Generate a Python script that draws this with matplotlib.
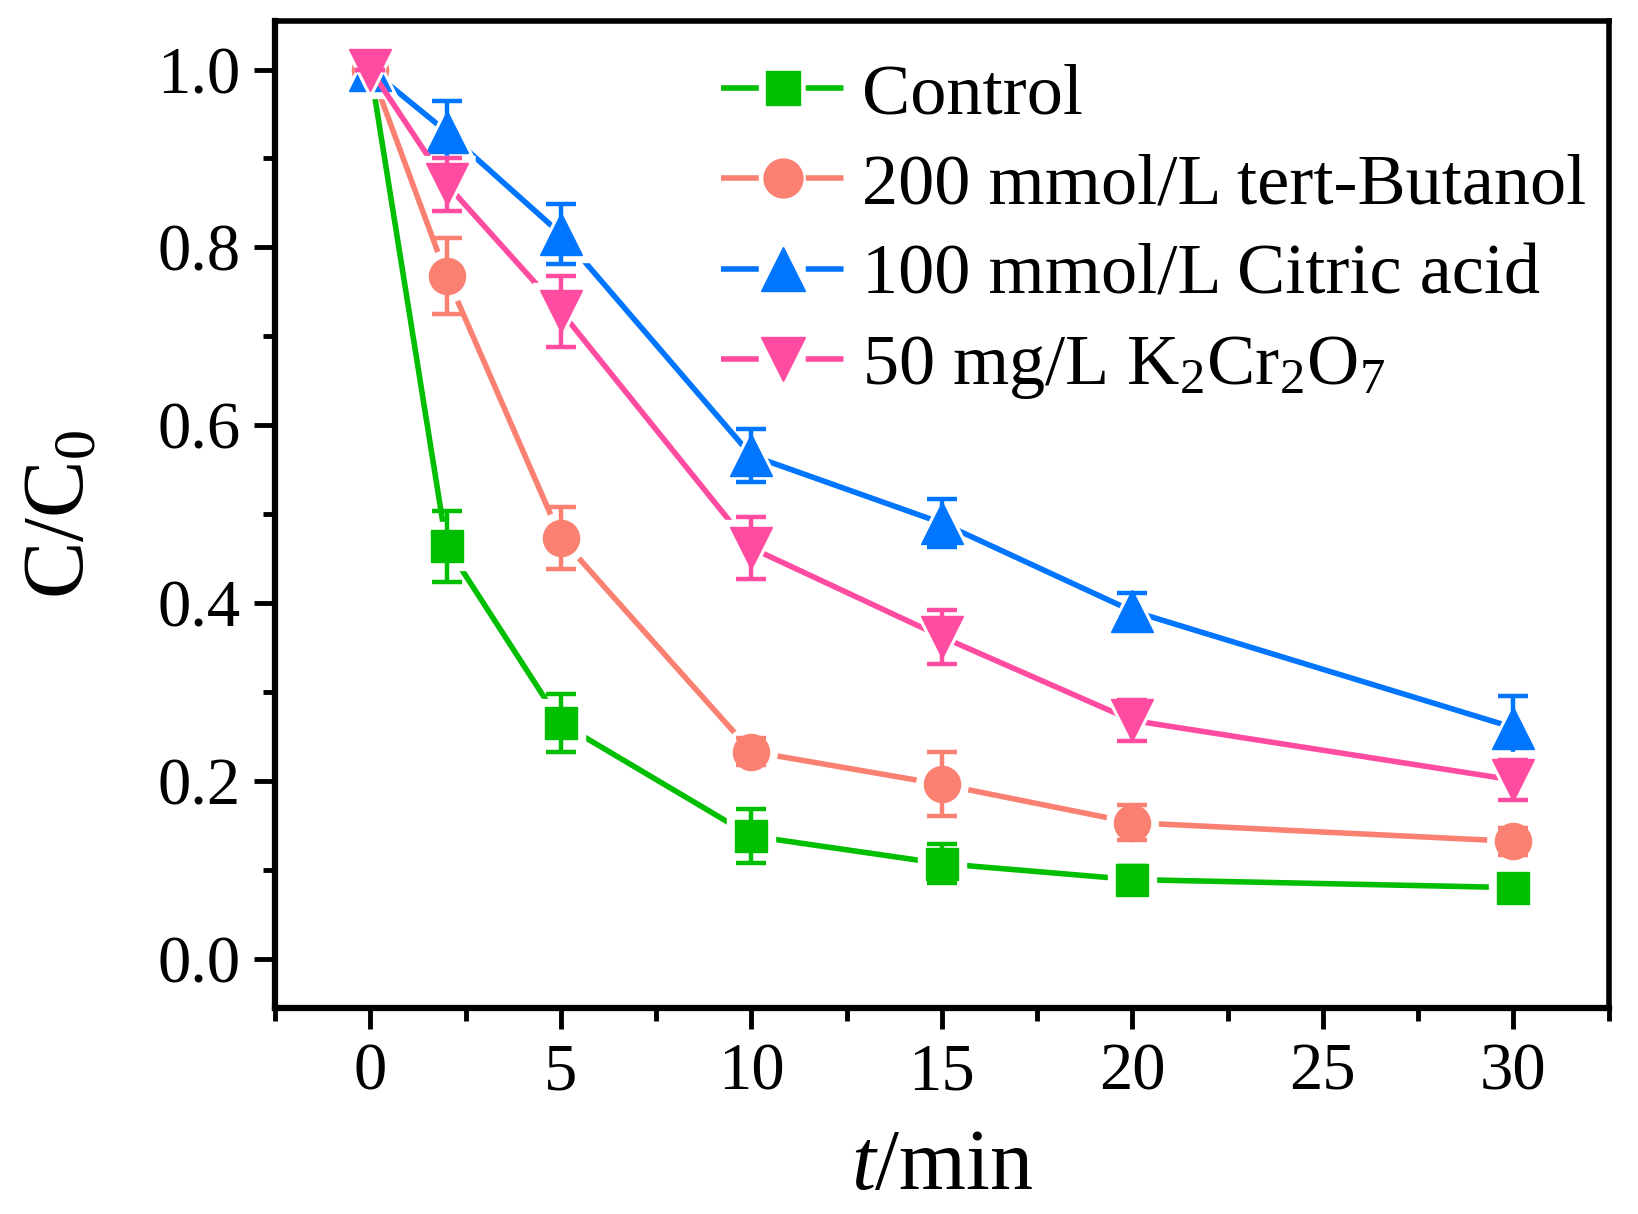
import matplotlib
matplotlib.use("Agg")
import matplotlib.pyplot as plt
from matplotlib.lines import Line2D
from matplotlib.legend_handler import HandlerTuple

plt.rcParams["font.family"] = ["Liberation Serif", "DejaVu Serif"]
plt.rcParams["mathtext.fontset"] = "custom"
plt.rcParams["mathtext.rm"] = "Liberation Serif"
plt.rcParams["mathtext.it"] = "Liberation Serif:italic"

t = [0, 2, 5, 10, 15, 20, 30]

control = [1.0, 0.464, 0.265, 0.138, 0.107, 0.089, 0.080]
control_err = [0.0, 0.040, 0.033, 0.030, 0.022, 0.015, 0.010]

butanol = [1.0, 0.768, 0.473, 0.233, 0.196, 0.153, 0.132]
butanol_err = [0.0, 0.043, 0.035, 0.015, 0.036, 0.020, 0.015]

citric = [1.0, 0.930, 0.815, 0.566, 0.490, 0.391, 0.260]
citric_err = [0.0, 0.035, 0.034, 0.030, 0.027, 0.020, 0.035]

k2cr = [1.0, 0.871, 0.728, 0.462, 0.362, 0.268, 0.201]
k2cr_err = [0.0, 0.030, 0.040, 0.035, 0.030, 0.023, 0.022]

labels = ["Control", "200 mmol/L tert-Butanol", "100 mmol/L Citric acid",
          "50 mg/L K$_2$Cr$_2$O$_7$"]
colors = ["#00BE00", "#FA8072", "#0075FF", "#FF4BA0"]
markers = ["s", "o", "^", "v"]
msizes = [23, 26, 30, 30]
LW = 4.0

fig = plt.figure(figsize=(16.38, 12.14), dpi=100)
ax = fig.add_axes([0.168, 0.170, 0.814, 0.813])

series = [(control, control_err), (butanol, butanol_err),
          (citric, citric_err), (k2cr, k2cr_err)]

handles = []
for i, (y, e) in enumerate(series):
    c = colors[i]
    z = 2 + i * 4
    ax.plot(t, y, color=c, lw=LW, zorder=z)
    # white halo so the line stops short of each marker (Origin style)
    ax.plot(t, y, ls="none", marker=markers[i], ms=msizes[i] + 11,
            color="white", mec="white", zorder=z + 1)
    ax.errorbar(t, y, yerr=e, fmt="none", ecolor=c, elinewidth=3.2,
                capsize=11, capthick=3.2, zorder=z + 2)
    ax.plot(t, y, ls="none", marker=markers[i], ms=msizes[i], color=c,
            mec=c, zorder=z + 3)
    # legend: line - gap - marker - gap - line
    h_line = Line2D([], [], color=c, lw=LW, ls=(0, (6.8, 8.45)))
    h_mark = Line2D([], [], ls="none", marker=markers[i], ms=msizes[i] + 2,
                    color=c, mec=c)
    handles.append((h_line, h_mark))

ax.set_xlim(-2.5, 32.5)
ax.set_ylim(-0.055, 1.055)
ax.set_xticks([0, 5, 10, 15, 20, 25, 30])
ax.set_xticks([2.5 + 5 * k for k in range(-1, 7)], minor=True)
ax.set_yticks([0.0, 0.2, 0.4, 0.6, 0.8, 1.0])
ax.set_yticks([0.1, 0.3, 0.5, 0.7, 0.9], minor=True)
ax.set_yticklabels(["0.0", "0.2", "0.4", "0.6", "0.8", "1.0"])

for s in ax.spines.values():
    s.set_linewidth(4)
ax.spines["left"].set_linewidth(4.5)
ax.spines["bottom"].set_linewidth(4.5)
ax.tick_params(which="major", direction="out", length=15, width=3.5,
               labelsize=48, pad=10)
ax.tick_params(which="minor", direction="out", length=9, width=3.5)

ax.set_xlabel("$t$/min", fontsize=62, labelpad=18)
ax.set_ylabel("C/C$_0$", fontsize=62, labelpad=40)

ax.legend(handles, labels, handler_map={tuple: HandlerTuple(ndivide=1, pad=0)},
          loc="upper right", frameon=False, fontsize=52, handlelength=1.70,
          handletextpad=0.24, labelspacing=0.34, borderaxespad=0,
          borderpad=0, bbox_to_anchor=(0.983, 0.957))

fig.savefig("out.png", dpi=100, facecolor="white")
